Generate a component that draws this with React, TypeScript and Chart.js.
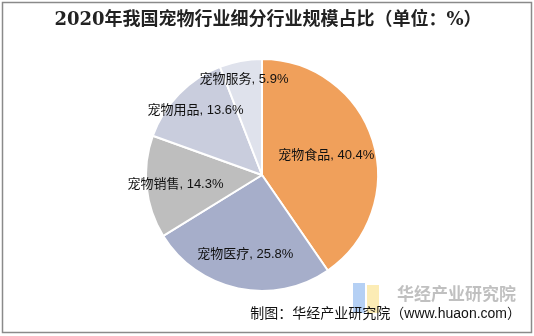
import React, { useEffect, useRef } from "react";
import { Chart, registerables } from "chart.js";

Chart.register(...registerables);

const categories = ["宠物食品", "宠物医疗", "宠物销售", "宠物用品", "宠物服务"];
const values = [40.4, 25.8, 14.3, 13.6, 5.9];
const colors = ["#F0A05B", "#A6AECA", "#BEBEBE", "#C9CDDD", "#DFE2EC"];
const labelRadius = [0.58, 0.7, 0.75, 0.8, 0.84];
const titleText = "2020年我国宠物行业细分行业规模占比（单位：%）";
const sourceText = "制图：华经产业研究院（www.huaon.com）";
const watermarkText = "华经产业研究院";

const decorPlugin = {
  id: "decor",
  beforeDraw(chart: any) {
    const ctx = chart.ctx;
    ctx.save();
    ctx.fillStyle = "#ffffff";
    ctx.fillRect(0, 0, chart.width, chart.height);
    ctx.fillStyle = "rgba(120,170,235,0.55)";
    ctx.fillRect(353, 283, 12, 30);
    ctx.fillStyle = "rgba(250,220,120,0.55)";
    ctx.fillRect(367, 285, 12, 28);
    ctx.fillStyle = "rgba(150,150,150,0.6)";
    ctx.font = "bold 17px 'Noto Sans CJK SC'";
    ctx.textAlign = "left";
    ctx.textBaseline = "middle";
    ctx.fillText(watermarkText, 397, 294);
    ctx.restore();
  },
  afterDraw(chart: any) {
    const ctx = chart.ctx;
    ctx.save();
    ctx.strokeStyle = "#8a8a8a";
    ctx.lineWidth = 1.5;
    ctx.strokeRect(2.5, 2.5, 529, 330);
    ctx.fillStyle = "#222";
    ctx.font = "bold 18px 'DejaVu Serif', 'Noto Sans CJK SC'";
    ctx.textAlign = "center";
    ctx.textBaseline = "middle";
    ctx.fillText(titleText, 268, 20);
    ctx.font = "14px 'Liberation Sans', 'Noto Sans CJK SC'";
    ctx.textAlign = "right";
    ctx.fillStyle = "#111";
    ctx.fillText(sourceText, 521, 314);
    const meta = chart.getDatasetMeta(0);
    ctx.font = "13px 'Liberation Sans', 'Noto Sans CJK SC'";
    ctx.textAlign = "center";
    ctx.fillStyle = "#111";
    meta.data.forEach((arc: any, i: number) => {
      const p = arc.getProps(["x", "y", "startAngle", "endAngle", "outerRadius"], true);
      const mid = (p.startAngle + p.endAngle) / 2;
      const r = p.outerRadius * labelRadius[i];
      const x = p.x + Math.cos(mid) * r;
      const y = p.y + Math.sin(mid) * r;
      ctx.fillText(`${categories[i]}, ${values[i]}%`, x, y);
    });
    ctx.restore();
  },
};

export default function App() {
  const ref = useRef<HTMLCanvasElement | null>(null);
  useEffect(() => {
    document.body.style.margin = "0";
    const chart = new Chart(ref.current as HTMLCanvasElement, {
      type: "pie",
      data: {
        labels: categories,
        datasets: [
          {
            data: values,
            backgroundColor: colors,
            borderColor: "#ffffff",
            borderWidth: 2,
          },
        ],
      },
      options: {
        animation: false,
        responsive: false,
        layout: { padding: { top: 58, bottom: 44, left: 145, right: 155 } },
        plugins: {
          legend: { display: false },
          tooltip: { enabled: false },
          title: { display: false },
        },
      },
      plugins: [decorPlugin],
    });
    return () => chart.destroy();
  }, []);
  return (
    <div style={{ width: 534, height: 336, position: "relative" }}>
      <canvas ref={ref} width={534} height={336} style={{ display: "block" }} />
    </div>
  );
}
